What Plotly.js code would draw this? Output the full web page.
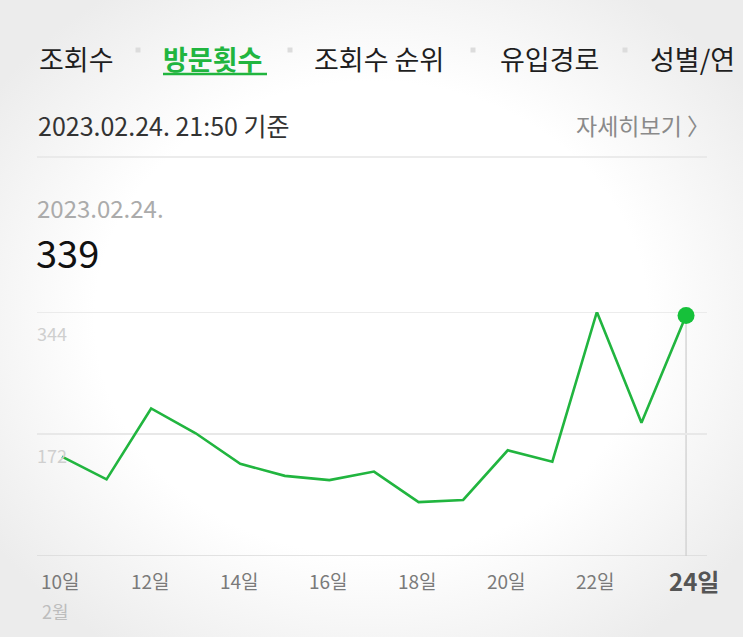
<!DOCTYPE html>
<html>
<head>
<meta charset="utf-8">
<script src="https://cdn.plot.ly/plotly-3.0.1.min.js"></script>
<style>
html,body{margin:0;padding:0;}
body{width:743px;height:637px;overflow:hidden;
background:radial-gradient(ellipse 62% 62% at 50% 50%, #ffffff 60%, #ececec 100%);}
#chart{width:743px;height:637px;}
</style>
</head>
<body>
<div id="chart"></div>
<script>
// Data
const days = [10,11,12,13,14,15,16,17,18,19,20,21,22,23,24];
const visits = [140,108,208,173,130,113,107,119,76,79,149,133,344,188,339];
const yTickVals = [172, 344];
const yTickText = ['172', '344'];
const xTickVals = [10,12,14,16,18,20,22,24];
const xTickText = ['10일','12일','14일','16일','18일','20일','22일','24일'];
const monthLabel = '2월';
const tabs = ['조회수','방문횟수','조회수 순위','유입경로','성별/연'];
const tabLeft = [37,161,312,498,648];
const sepX = [138,290,473,625];
const asOf = '2023.02.24. 21:50 기준';
const detail = '자세히보기 〉';
const selDate = '2023.02.24.';
const selValue = '339';

const W = 743, H = 637;
const px = x => x / W;
const py = y => 1 - y / H;
const FONT = '"Noto Sans CJK KR", "Noto Sans", sans-serif';
const GREEN = '#21b53f';

const annotations = [];
const shapes = [];

// tabs
tabs.forEach((t, i) => {
  const sel = i === 1;
  annotations.push({
    xref:'paper', yref:'paper', x: px(tabLeft[i]), y: py(58),
    xanchor:'left', yanchor:'middle', showarrow:false,
    text: sel ? '<b>' + t + '</b>' : t,
    font:{family:FONT, size:27, color: sel ? GREEN : '#1e1e1e'}
  });
});
shapes.push({type:'line', xref:'paper', yref:'paper', x0:px(163), x1:px(267), y0:py(74), y1:py(74),
  line:{color:GREEN, width:2.5}});
sepX.forEach(x => shapes.push({type:'rect', xref:'paper', yref:'paper',
  x0:px(x-2.5), x1:px(x+2.5), y0:py(47.5), y1:py(52.5), fillcolor:'#dcdcdc', line:{width:0}}));

annotations.push({xref:'paper', yref:'paper', x:px(36), y:py(125), xanchor:'left', yanchor:'middle',
  showarrow:false, text:asOf, font:{family:FONT, size:25, color:'#333'}});
annotations.push({xref:'paper', yref:'paper', x:px(712), y:py(125), xanchor:'right', yanchor:'middle',
  showarrow:false, text:detail, font:{family:FONT, size:23, color:'#8a8a8a'}});
shapes.push({type:'line', xref:'paper', yref:'paper', x0:px(37), x1:px(707), y0:py(157), y1:py(157),
  line:{color:'#e6e6e6', width:1.5}});

annotations.push({xref:'paper', yref:'paper', x:px(35), y:py(207), xanchor:'left', yanchor:'middle',
  showarrow:false, text:selDate, font:{family:FONT, size:24, color:'#ababab'}});
annotations.push({xref:'paper', yref:'paper', x:px(34), y:py(252), xanchor:'left', yanchor:'middle',
  showarrow:false, text:selValue, font:{family:FONT, size:38, color:'#111'}});

// y tick labels below gridlines
yTickVals.forEach((v, i) => annotations.push({xref:'paper', yref:'y', x:px(35), y:v, yshift:-21,
  xanchor:'left', yanchor:'middle', showarrow:false, text:yTickText[i],
  font:{family:FONT, size:18, color:'#cfcfcf'}}));

// x tick labels
xTickVals.forEach((v, i) => {
  const last = i === xTickVals.length - 1;
  annotations.push({xref:'x', yref:'paper', x:v, y:py(580), xshift: last ? 8 : -1,
    xanchor:'center', yanchor:'middle', showarrow:false,
    text: last ? '<b>' + xTickText[i] + '</b>' : xTickText[i],
    font:{family:FONT, size: last ? 24 : 19, color: last ? '#555' : '#7a7a7a'}});
});
annotations.push({xref:'paper', yref:'paper', x:px(40), y:py(611), xanchor:'left', yanchor:'middle',
  showarrow:false, text:monthLabel, font:{family:FONT, size:18, color:'#bdbdbd'}});

// top gridline, baseline and vertical indicator
shapes.push({type:'line', xref:'paper', yref:'y', x0:px(37), x1:px(707), y0:yTickVals[1], y1:yTickVals[1],
  line:{color:'#e6e6e6', width:1.3}, layer:'below'});
shapes.push({type:'line', xref:'paper', yref:'y', x0:px(37), x1:px(707), y0:0, y1:0,
  line:{color:'#dadada', width:1.5}, layer:'below'});
shapes.push({type:'line', xref:'x', yref:'y', x0:days[days.length-1], x1:days[days.length-1],
  y0:0, y1:visits[visits.length-1], line:{color:'#cccccc', width:1.2}, layer:'below'});

const traces = [
  {x:days, y:visits, type:'scatter', mode:'lines', line:{color:GREEN, width:2.6}, hoverinfo:'skip', cliponaxis:false},
  {x:[days[days.length-1]], y:[visits[visits.length-1]], type:'scatter', mode:'markers',
   marker:{color:'#16c13a', size:17}, hoverinfo:'skip', cliponaxis:false}
];

const layout = {
  width:W, height:H, margin:{l:0, r:0, t:0, b:0},
  paper_bgcolor:'rgba(0,0,0,0)', plot_bgcolor:'rgba(0,0,0,0)',
  showlegend:false,
  xaxis:{domain:[37/W, 707/W], range:[9.44, 24.47], showgrid:false, zeroline:false,
    showticklabels:false, ticks:'', fixedrange:true},
  yaxis:{domain:[1 - 556/H, 1 - 312/H], range:[0, 344], tickvals:yTickVals, showticklabels:false,
    showgrid:true, gridcolor:'#e8e8e8', gridwidth:1.2, zeroline:false, ticks:'', fixedrange:true},
  annotations, shapes
};

Plotly.newPlot('chart', traces, layout, {displayModeBar:false, staticPlot:true});
</script>
</body>
</html>
